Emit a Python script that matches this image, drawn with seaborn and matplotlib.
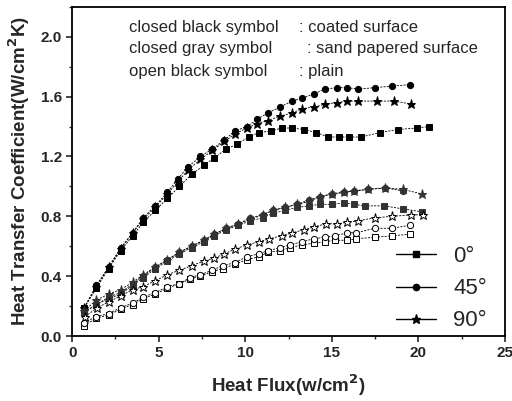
import numpy as np
import pandas as pd
import seaborn as sns
import matplotlib.pyplot as plt
from matplotlib.lines import Line2D

# coated surface (closed black symbols)
c0_x = [0.7, 1.4, 2.1, 2.8, 3.5, 4.1, 4.8, 5.5, 6.2, 6.9, 7.6, 8.2, 8.9, 9.5, 10.2, 10.8, 11.5, 12.1, 12.7, 13.4,
        14.1, 14.8, 15.4, 16.0, 16.7, 17.8, 18.8, 19.9, 20.6]
c0_y = [0.19, 0.32, 0.45, 0.57, 0.67, 0.76, 0.84, 0.92, 1.00, 1.08, 1.14, 1.19, 1.25, 1.28, 1.33, 1.36, 1.37, 1.39, 1.39, 1.38,
        1.36, 1.33, 1.33, 1.33, 1.33, 1.36, 1.38, 1.39, 1.40]
c45_x = [0.7, 1.4, 2.1, 2.8, 3.5, 4.1, 4.8, 5.5, 6.1, 6.7, 7.4, 8.1, 8.8, 9.4, 10.1, 10.7, 11.3, 12.0, 12.7, 13.3,
         14.0, 14.6, 15.3, 15.9, 16.5, 17.5, 18.5, 19.5]
c45_y = [0.19, 0.34, 0.46, 0.59, 0.69, 0.79, 0.87, 0.96, 1.05, 1.13, 1.20, 1.25, 1.31, 1.37, 1.40, 1.45, 1.49, 1.53, 1.57, 1.59,
         1.62, 1.65, 1.66, 1.66, 1.65, 1.66, 1.67, 1.68]
c90_x = [0.7, 1.4, 2.1, 2.8, 3.5, 4.1, 4.8, 5.5, 6.1, 6.7, 7.4, 8.1, 8.8, 9.4, 10.1, 10.7, 11.3, 12.0, 12.7, 13.3,
         14.0, 14.6, 15.3, 15.9, 16.5, 17.6, 18.6, 19.6]
c90_y = [0.19, 0.33, 0.46, 0.58, 0.69, 0.78, 0.86, 0.95, 1.03, 1.11, 1.18, 1.24, 1.30, 1.35, 1.39, 1.42, 1.44, 1.47, 1.49, 1.52,
         1.53, 1.55, 1.56, 1.57, 1.57, 1.57, 1.57, 1.55]

# sand papered surface (closed gray symbols)
s0_x = [0.7, 1.4, 2.1, 2.8, 3.5, 4.1, 4.8, 5.5, 6.2, 6.9, 7.6, 8.2, 8.9, 9.6, 10.3, 11.0, 11.6, 12.3, 13.0, 13.7,
        14.3, 15.0, 15.7, 16.3, 16.9, 18.0, 19.1, 20.2]
s0_y = [0.16, 0.21, 0.25, 0.28, 0.34, 0.39, 0.45, 0.50, 0.55, 0.59, 0.63, 0.67, 0.71, 0.74, 0.77, 0.79, 0.82, 0.84, 0.86, 0.87,
        0.88, 0.88, 0.89, 0.88, 0.87, 0.87, 0.85, 0.83]
s45_x = [0.7, 1.4, 2.1, 2.8, 3.5, 4.1, 4.8, 5.5, 6.2, 6.9, 7.6, 8.2, 8.9, 9.6, 10.3, 11.0, 11.6, 12.3, 13.0, 13.7,
         14.3, 15.0, 15.7, 16.3, 17.1, 18.1, 19.1]
s45_y = [0.16, 0.21, 0.26, 0.29, 0.35, 0.40, 0.46, 0.51, 0.56, 0.60, 0.64, 0.68, 0.72, 0.75, 0.79, 0.81, 0.84, 0.86, 0.88, 0.91,
         0.93, 0.95, 0.96, 0.97, 0.98, 0.99, 0.97]
s90_x = [0.7, 1.4, 2.1, 2.8, 3.5, 4.1, 4.8, 5.5, 6.2, 6.9, 7.6, 8.2, 8.9, 9.6, 10.3, 11.0, 11.6, 12.3, 13.0, 13.7,
         14.3, 15.0, 15.7, 16.3, 17.1, 18.1, 19.1, 20.2]
s90_y = [0.17, 0.24, 0.28, 0.31, 0.36, 0.41, 0.46, 0.51, 0.56, 0.60, 0.64, 0.68, 0.72, 0.75, 0.78, 0.81, 0.84, 0.86, 0.88, 0.90,
         0.93, 0.95, 0.96, 0.97, 0.98, 0.99, 0.98, 0.95]

# plain surface (open black symbols)
p0_x = [0.7, 1.4, 2.1, 2.8, 3.5, 4.1, 4.8, 5.5, 6.2, 6.8, 7.4, 8.1, 8.7, 9.4, 10.1, 10.8, 11.3, 12.0, 12.6, 13.3,
        13.95, 14.6, 15.2, 15.9, 16.4, 17.5, 18.5, 19.5]
p0_y = [0.07, 0.12, 0.14, 0.18, 0.21, 0.25, 0.28, 0.32, 0.35, 0.38, 0.40, 0.43, 0.45, 0.48, 0.51, 0.53, 0.56, 0.57, 0.59, 0.61,
        0.62, 0.63, 0.64, 0.64, 0.65, 0.66, 0.67, 0.68]
p45_x = p0_x
p45_y = [0.09, 0.13, 0.15, 0.19, 0.22, 0.26, 0.29, 0.33, 0.35, 0.39, 0.41, 0.44, 0.47, 0.49, 0.53, 0.55, 0.57, 0.59, 0.61, 0.63,
         0.65, 0.66, 0.67, 0.69, 0.69, 0.72, 0.72, 0.74]
p90_x = [0.75, 1.45, 2.15, 2.8, 3.5, 4.1, 4.8, 5.5, 6.2, 6.9, 7.6, 8.2, 8.8, 9.4, 10.1, 10.8, 11.4, 12.1, 12.7, 13.4,
         14.0, 14.65, 15.3, 15.9, 16.5, 17.5, 18.5, 19.6, 20.3]
p90_y = [0.13, 0.19, 0.23, 0.27, 0.31, 0.33, 0.37, 0.41, 0.44, 0.47, 0.50, 0.52, 0.55, 0.58, 0.61, 0.63, 0.65, 0.67, 0.69, 0.71,
         0.73, 0.75, 0.75, 0.76, 0.77, 0.79, 0.80, 0.81, 0.81]

angle_labels = ['0°', '45°', '90°']
note_left = ['closed black symbol', 'closed gray symbol', 'open black symbol']
note_right = [': coated surface', ': sand papered surface', ': plain']

sns.set_style('ticks')
plt.rcParams['font.family'] = ['Liberation Sans', 'DejaVu Sans']

fig = plt.figure(figsize=(5.12, 4.01), dpi=100)
ax = fig.add_axes([0.141, 0.162, 0.845, 0.821])

markers = {'0': ('s', 4.0), '45': ('o', 4.5), '90': ('*', 6.5)}
series = [
    (c0_x, c0_y, '0', 'black', 'black'), (c45_x, c45_y, '45', 'black', 'black'), (c90_x, c90_y, '90', 'black', 'black'),
    (s0_x, s0_y, '0', '#333333', '#333333'), (s45_x, s45_y, '45', '#333333', '#333333'), (s90_x, s90_y, '90', '#333333', '#333333'),
    (p0_x, p0_y, '0', 'white', 'black'), (p45_x, p45_y, '45', 'white', 'black'), (p90_x, p90_y, '90', 'white', 'black'),
]
for x, y, ang, fc, ec in series:
    m, ms = markers[ang]
    sns.lineplot(x=x, y=y, ax=ax, sort=False, color='black', lw=0.6, linestyle=(0, (2.5, 1.5)),
                 marker=m, markersize=ms, markerfacecolor=fc, markeredgecolor=ec, markeredgewidth=0.7)

ax.set_xlim(0, 25)
ax.set_ylim(0, 2.2)
ax.set_xticks([0, 5, 10, 15, 20, 25])
ax.set_xticks(np.arange(0, 25.1, 2.5), minor=True)
ax.set_yticks([0.0, 0.4, 0.8, 1.2, 1.6, 2.0])
ax.set_yticks(np.arange(0, 2.21, 0.2), minor=True)
ax.set_yticklabels(['0.0', '0.4', '0.8', '1.2', '1.6', '2.0'])
ax.tick_params(which='major', direction='out', length=4, width=1.2, labelsize=11)
ax.tick_params(which='minor', direction='out', length=2.5, width=1)
for lab in ax.get_xticklabels() + ax.get_yticklabels():
    lab.set_fontweight('bold')
for sp in ax.spines.values():
    sp.set_linewidth(1.3)
    sp.set_color('black')

ax.set_xlabel('Heat Flux(w/cm$^\\mathbf{2}$)', fontsize=13.5, fontweight='bold', labelpad=9)
ax.set_ylabel('Heat Transfer Coefficient(W/cm$^\\mathbf{2}$K)', fontsize=13.5, fontweight='bold', labelpad=6)

ys = [2.06, 1.92, 1.77]
xr = [13.1, 13.55, 13.1]
for i in range(3):
    ax.text(3.3, ys[i], note_left[i], fontsize=12, va='center')
    ax.text(xr[i], ys[i], note_right[i], fontsize=12, va='center')

handles = [Line2D([], [], color='black', lw=1, marker=markers[k][0], markersize=markers[k][1],
                  markerfacecolor='black', markeredgecolor='black') for k in ['0', '45', '90']]
ax.legend(handles, angle_labels, loc='lower right', bbox_to_anchor=(1.0, -0.04), frameon=False,
          fontsize=16, handlelength=1.8, handletextpad=0.8, labelspacing=0.5, borderpad=0.3)

fig.savefig('out.png', dpi=100)
